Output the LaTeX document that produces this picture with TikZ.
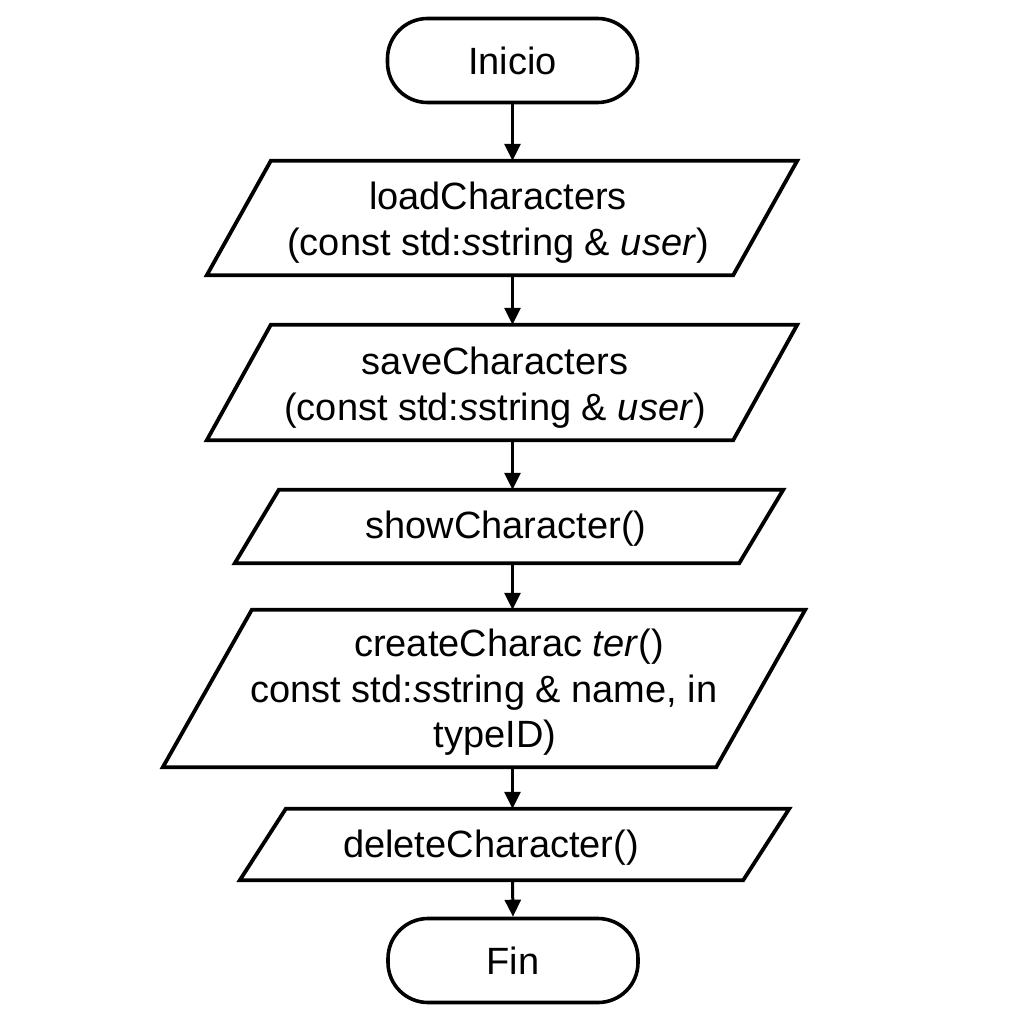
\documentclass[tikz,border=0pt]{standalone}
\usepackage{fontspec}
\setmainfont{Liberation Sans}
\usetikzlibrary{arrows.meta,calc}
\newcommand\pgram[2]{\draw[border] ($(#1.north west)+(#2,0)$) -- (#1.north east) -- ($(#1.south east)-(#2,0)$) -- (#1.south west) -- cycle;}
\begin{document}
\begin{tikzpicture}[x=1pt,y=-1pt,
  txt/.style={font=\fontsize{38pt}{46pt}\selectfont, align=center, inner sep=0pt},
  term/.style={txt, draw, line width=3.6pt, rounded corners=40pt, minimum width=250pt, minimum height=84pt},
  io/.style={inner sep=0pt, minimum width=#1},
  arr/.style={line width=3pt, -{Triangle[length=17pt,width=16pt]}},
  border/.style={line width=3.8pt, line join=miter}
]
\useasboundingbox (0,0) rectangle (1024,1024);
\fill[white] (0,0) rectangle (1024,1024);

\node[term] (inicio) at (512.5,60.5) {Inicio};

\node[io=590pt, minimum height=114pt] (p1) at (502,218) {};
\pgram{p1}{64}
\node[txt] (t1) at (498,223)
  {loadCharacters\\(const std:\textit{s}string \& \textit{user})};

\node[io=590pt, minimum height=115pt] (p2) at (502,382.5) {};
\pgram{p2}{64}
\node[txt] (t2) at (495,387.5)
  {saveCharacters\\(const std:\textit{s}string \& \textit{user})};

\node[io=548pt, minimum height=73pt] (p3) at (509,526.5) {};
\pgram{p3}{44}
\node[txt] (t3) at (506,529) {showCharacter()};

\node[io=642pt, minimum height=157pt] (p4) at (484,688.5) {};
\pgram{p4}{89}
\node[txt, font=\fontsize{38pt}{45.5pt}\selectfont] (t4) at (484,692.5)
  {\hspace*{50pt}createCharac \textit{ter}()\\const std:\textit{s}string \& name, in\hspace*{12pt}\\\hspace*{22pt}typeID)};

\node[io=549pt, minimum height=71pt] (p5) at (514.5,844.5) {};
\pgram{p5}{46}
\node[txt] (t5) at (491,847.5) {deleteCharacter()};

\node[term] (fin) at (513,960.5) {Fin};

\draw[arr] (inicio.south) -- (inicio.south |- p1.north);
\draw[arr] (inicio.south |- p1.south) -- (inicio.south |- p2.north);
\draw[arr] (inicio.south |- p2.south) -- (inicio.south |- p3.north);
\draw[arr] (inicio.south |- p3.south) -- (inicio.south |- p4.north);
\draw[arr] (inicio.south |- p4.south) -- (inicio.south |- p5.north);
\draw[arr] (inicio.south |- p5.south) -- (fin.north);
\end{tikzpicture}
\end{document}
